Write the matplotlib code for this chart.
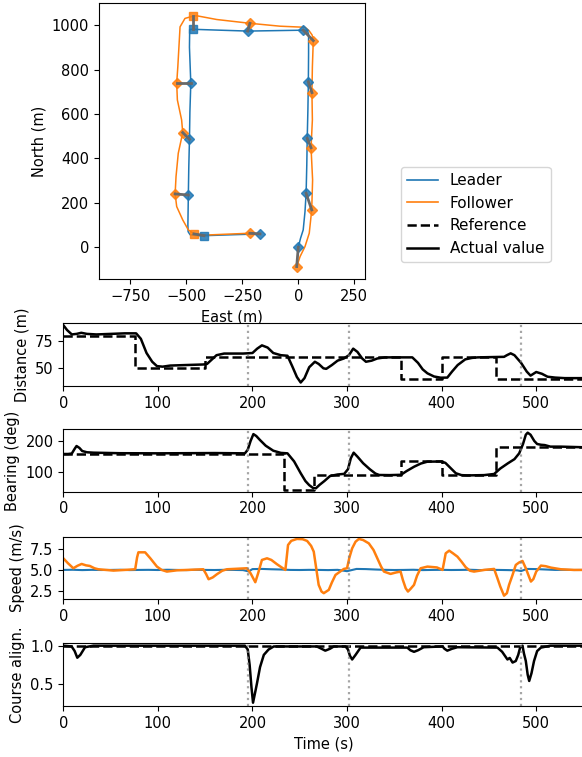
import matplotlib
matplotlib.use('Agg')
import matplotlib.pyplot as plt
from matplotlib.lines import Line2D

# ---- trajectory data (East, North in m) ----
leader_east = [0, 10, 22, 30, 35, 38, 40, 43, 45, 46, 46, 40, 22, -100, -226, -350, -471,
               -485, -486, -480, -484, -486, -489, -491, -493, -492, -483, -460, -421, -300, -171]
leader_north = [0, 40, 78, 160, 243, 370, 490, 620, 745, 870, 960, 976, 977, 975, 973, 977, 981,
                980, 900, 738, 610, 486, 360, 235, 100, 70, 56, 53, 52, 56, 60]

follower_east = [-7, 8, 30, 49, 60, 64, 57, 63, 61, 63, 67, 62, 48, 30, -82, -216, -364, -454,
                 -471, -506, -528, -538, -543, -540, -521, -516, -536, -546, -550, -543, -516,
                 -491, -466, -409, -216]
follower_north = [-87, -42, 3, 63, 168, 303, 448, 573, 696, 812, 930, 955, 975, 990, 995, 1008,
                  1025, 1042, 1040, 1030, 992, 812, 738, 663, 573, 516, 423, 318, 240, 183, 123,
                  78, 60, 55, 63]

# positions every 50 s (t = 0 ... 550)
leader_mark_east = [0, 35, 40, 45, 22, -226, -471, -480, -486, -491, -421, -171]
leader_mark_north = [0, 243, 490, 745, 977, 973, 981, 738, 486, 235, 52, 60]
follower_mark_east = [-7, 60, 57, 61, 67, -216, -471, -543, -516, -550, -466, -216]
follower_mark_north = [-87, 168, 448, 696, 930, 1008, 1040, 738, 516, 240, 60, 63]
mark_style = ['D', 'D', 'D', 'D', 'D', 'D', 's', 'D', 'D', 'D', 's', 'D']

# ---- time series ----
event_times = [195, 302, 484]

dist_ref_t = [0, 76, 150, 357, 400, 457, 550]
dist_ref = [80, 50, 60, 40, 60, 40, 40]
dist_t = [0, 4, 9, 14, 19, 25, 35, 50, 65, 77, 82, 88, 94, 99, 105, 113, 130, 148, 152, 157,
          162, 170, 190, 200, 205, 210, 216, 222, 230, 237, 242, 247, 251, 255, 260, 266, 270,
          275, 278, 284, 290, 296.6, 302, 306.5, 311, 316, 320, 326, 332, 340, 350, 369, 375,
          380, 385, 392, 399, 406, 411, 417, 425, 432, 438, 466, 469, 473, 477, 484, 490, 494,
          500, 506, 512, 520, 530, 550]
dist = [89.5, 85, 81, 81.5, 82.5, 81.5, 81, 81.5, 82, 82, 77, 64, 56, 52, 51.5, 52.5, 53, 53.5,
        54, 58, 62, 63.5, 63.5, 64, 68, 71, 69, 64, 62, 61.5, 52, 42, 37, 41, 51, 56, 54, 50,
        49.5, 53, 57, 59, 62, 68, 65, 59, 56, 57, 59, 60, 60, 60, 55, 49, 45.4, 42.5, 41.4,
        41.5, 47, 53, 58.2, 59.5, 60, 60.5, 62, 63.7, 62, 55, 47, 43.3, 46.6, 45, 42.3, 41.5,
        41, 41]

bear_ref_t = [0, 233, 265, 357, 400, 457, 550]
bear_ref = [160, 45, 90, 135, 90, 180, 180]
bear_t = [0, 5, 9, 12, 14, 17, 20, 25, 32, 60, 100, 160, 192, 195, 198, 201, 204, 208, 214,
          222, 230, 237, 244, 251, 256, 260, 264, 267, 271, 276, 282, 290, 297, 301, 304, 307,
          311, 317, 324, 330, 334, 345, 357, 363, 371, 378, 385, 400, 404, 410, 415, 421, 427,
          445, 455.5, 462, 470, 477, 482, 486, 489, 491, 494, 498, 501, 505, 509, 515, 526, 550]
bear = [158.5, 158.5, 160, 175, 184, 178, 168, 164, 162.7, 161, 160.6, 161.5, 160.6, 172, 200,
        222, 216, 203, 185, 169, 162, 160.6, 135, 97, 72, 59, 50, 48.8, 60, 72, 88, 93, 95, 110,
        145, 162.7, 150, 129, 110, 96, 91.4, 91, 92, 104, 118, 128, 134, 134.5, 130, 112, 97, 91,
        90, 91, 94.6, 112, 128.6, 142, 160.6, 190, 220, 226.6, 220, 200, 190.4, 188, 187, 182,
        182, 180]

leader_speed_t = [0, 10, 20, 30, 40, 50, 60, 70, 80, 90, 100, 110, 120, 130, 140, 150, 160, 170,
                  180, 190, 196, 200, 210, 220, 230, 240, 250, 260, 270, 280, 290, 300, 310, 320,
                  330, 340, 350, 360, 370, 380, 390, 400, 410, 420, 430, 440, 450, 460, 470, 480,
                  484, 490, 500, 510, 520, 530, 540, 550]
leader_speed = [5.0, 5.02, 4.98, 5.01, 4.99, 5.0, 5.02, 4.98, 5.0, 5.01, 4.99, 5.02, 5.0, 4.98,
                5.01, 5.0, 4.99, 5.01, 5.0, 4.98, 4.82, 5.1, 5.12, 5.08, 5.05, 5.0, 4.99, 5.01,
                5.0, 4.98, 5.01, 4.85, 5.12, 5.1, 5.05, 5.01, 4.99, 5.0, 5.02, 4.98, 5.0, 5.01,
                4.99, 5.0, 5.02, 4.98, 5.01, 5.0, 4.98, 4.95, 4.86, 5.12, 5.1, 5.05, 5.0, 5.01,
                4.99, 5.0]
follower_speed_t = [0, 5, 10.6, 15, 19.4, 24, 28, 33, 37, 53, 65, 76, 78, 79.4, 86.5, 92, 99,
                    104, 109.5, 120, 148, 151, 153.6, 158, 162.4, 168, 173, 194, 198, 203, 206,
                    210, 215.4, 220, 226, 234.8, 237.6, 241, 247, 253, 257.8, 262, 264.8, 267,
                    270, 273, 275.4, 280.7, 284, 287.8, 296.6, 300, 302.5, 305.4, 309, 312.5,
                    317, 323, 328, 332, 336, 339, 346, 352, 356.6, 359, 362, 364.4, 367, 370.8,
                    374, 377.8, 385, 395, 401, 403, 404.3, 408, 412, 416.7, 421, 425.5, 430,
                    434.3, 445, 455.5, 459, 462, 466, 469, 471.3, 475, 478.4, 482, 485.5, 489,
                    492, 494.4, 497, 500, 505, 510, 515.5, 526, 540, 550]
follower_speed = [6.4, 5.8, 5.2, 5.5, 5.72, 5.55, 5.48, 5.2, 5.08, 4.92, 5.0, 5.08, 6.5, 7.12,
                  7.12, 6.4, 5.4, 5.0, 4.8, 4.95, 5.08, 4.5, 3.88, 4.1, 4.48, 4.9, 5.08, 5.2, 4.6,
                  3.52, 4.6, 6.2, 6.4, 6.2, 5.68, 5.0, 8.0, 8.5, 8.73, 8.7, 8.49, 7.9, 7.2, 5.5,
                  3.2, 2.4, 2.2, 2.6, 3.5, 4.4, 5.12, 5.2, 6.5, 7.6, 8.4, 8.73, 8.6, 8.2, 7.4,
                  6.4, 5.4, 4.8, 4.52, 4.7, 4.8, 3.8, 2.8, 2.4, 2.7, 3.2, 4.3, 5.2, 5.4, 5.3, 5.0,
                  6.2, 7.0, 7.32, 7.0, 6.6, 6.0, 5.32, 4.9, 4.8, 5.0, 5.12, 4.0, 3.0, 1.9, 2.2,
                  3.2, 4.4, 5.6, 5.9, 6.08, 5.2, 4.3, 3.6, 3.9, 4.8, 5.52, 5.45, 5.28, 5.08, 5.0,
                  5.0]

course_ref_t = [0, 550]
course_ref = [1.0, 1.0]
course_t = [0, 8.8, 12, 14.8, 18, 23, 31.8, 192, 195, 197, 199, 200.6, 203, 204.8, 208, 212,
            217, 222.5, 268, 273, 277, 282, 286, 298.4, 301, 303, 305.4, 309, 314.3, 363.7, 367,
            370.8, 375, 381, 401, 403, 406, 411, 416.7, 459, 464, 469.6, 472, 475, 478.4, 481,
            483, 485.5, 487, 489, 491, 492.6, 495, 497.7, 501, 505, 515, 550]
course = [1.0, 0.99, 0.93, 0.843, 0.88, 0.98, 1.0, 1.0, 0.95, 0.75, 0.45, 0.256, 0.4, 0.51,
          0.72, 0.88, 0.95, 0.99, 0.99, 0.96, 0.935, 0.96, 0.99, 0.99, 0.95, 0.87, 0.82, 0.88,
          0.975, 0.975, 0.94, 0.92, 0.94, 0.98, 0.99, 0.96, 0.935, 0.96, 0.98, 0.975, 0.92, 0.82,
          0.84, 0.78, 0.8, 0.88, 0.975, 1.0, 0.9, 0.8, 0.62, 0.54, 0.64, 0.8, 0.93, 0.975, 1.0,
          1.0]

plt.rcParams['font.size'] = 10.5
W, H = 582, 757
fig = plt.figure(figsize=(W / 100, H / 100), dpi=100)


def px_axes(left, top, right, bottom):
    # place an axes using pixel edges measured on the picture
    return fig.add_axes([left / W, 1 - bottom / H, (right - left) / W, (bottom - top) / H])


# Trajectory plot
ax = px_axes(99, 3.3, 365, 279)
ax.plot(leader_east, leader_north, color='C0', lw=1.1)
ax.plot(follower_east, follower_north, color='C1', lw=1.1)
for i in range(len(mark_style)):
    ax.plot([leader_mark_east[i], follower_mark_east[i]],
            [leader_mark_north[i], follower_mark_north[i]], color='dimgray', lw=2, zorder=4)
    ax.plot(leader_mark_east[i], leader_mark_north[i], marker=mark_style[i], color='C0',
            ms=5.5, alpha=0.85, zorder=3)
    ax.plot(follower_mark_east[i], follower_mark_north[i], marker=mark_style[i], color='C1',
            ms=5.5, alpha=0.85, zorder=3)
ax.set_xlim(-890, 298)
ax.set_ylim(-143, 1098)
ax.set_xticks([-750, -500, -250, 0, 250])
ax.set_xlabel('East (m)')
ax.set_ylabel('North (m)')

handles = [Line2D([], [], color='C0', lw=1.2), Line2D([], [], color='C1', lw=1.2),
           Line2D([], [], color='k', ls='--', lw=1.8), Line2D([], [], color='k', lw=1.8)]
fig.legend(handles, ['Leader', 'Follower', 'Reference', 'Actual value'], fontsize=11,
           loc='upper left', bbox_to_anchor=(401 / W, 1 - 167 / H), borderaxespad=0)

# Time series plots
right_px = 583.5
rows = [(323.3, 386), (429.3, 491.7), (536.7, 599), (643, 706)]
axes = [px_axes(63.3, top, right_px, bot) for top, bot in rows]

axes[0].plot(dist_ref_t, dist_ref, 'k--', lw=1.8, drawstyle='steps-post')
axes[0].plot(dist_t, dist, 'k-', lw=1.8)
axes[0].set_ylim(33.8, 91.2)
axes[0].set_ylabel('Distance (m)')

axes[1].plot(bear_ref_t, bear_ref, 'k--', lw=1.8, drawstyle='steps-post')
axes[1].plot(bear_t, bear, 'k-', lw=1.8)
axes[1].set_ylim(38, 237.4)
axes[1].set_ylabel('Bearing (deg)')

axes[2].plot(leader_speed_t, leader_speed, color='C0', lw=1.5)
axes[2].plot(follower_speed_t, follower_speed, color='C1', lw=1.8)
axes[2].set_ylim(1.5, 9.0)
axes[2].set_yticks([2.5, 5.0, 7.5])
axes[2].set_ylabel('Speed (m/s)')

axes[3].plot(course_ref_t, course_ref, 'k--', lw=1.8)
axes[3].plot(course_t, course, 'k-', lw=1.8)
axes[3].set_ylim(0.213, 1.035)
axes[3].set_yticks([0.5, 1.0])
axes[3].set_ylabel('Course align.')
axes[3].set_xlabel('Time (s)')

for a in axes:
    for et in event_times:
        a.axvline(et, color='gray', ls=':', lw=1.6, alpha=0.7)
    a.set_xlim(0, 550)
    a.set_xticks([0, 100, 200, 300, 400, 500])

fig.savefig('out.png', dpi=100)
